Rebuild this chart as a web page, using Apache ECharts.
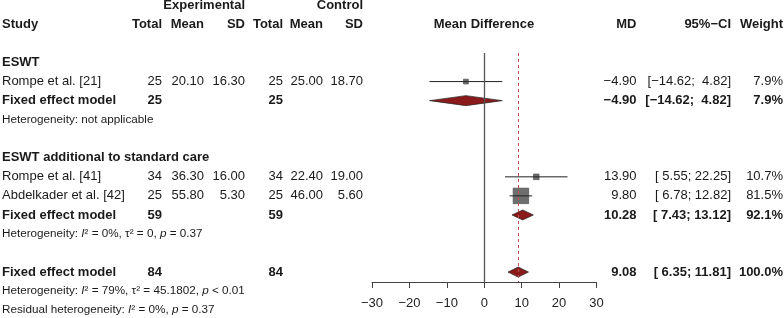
<!DOCTYPE html>
<html>
<head>
<meta charset="utf-8">
<script src="https://cdn.jsdelivr.net/npm/echarts@6/dist/echarts.min.js"></script>
<style>
  html, body { margin: 0; padding: 0; background: #fff; }
  #forest { width: 784px; height: 318px; }
</style>
</head>
<body>
<div id="forest"></div>
<script>
// studies
var studies = ['Rompe et al. [21]', 'Rompe et al. [41]', 'Abdelkader et al. [42]'];
var studyRows = [4, 9, 10];
var expTotal = [25, 34, 25];
var expMean = ['20.10', '36.30', '55.80'];
var expSD = ['16.30', '16.00', '5.30'];
var ctrlTotal = [25, 34, 25];
var ctrlMean = ['25.00', '22.40', '46.00'];
var ctrlSD = ['18.70', '19.00', '5.60'];
var md = [-4.90, 13.90, 9.80];
var ciLow = [-14.62, 5.55, 6.78];
var ciHigh = [4.82, 22.25, 12.82];
var weight = [7.9, 10.7, 81.5];

// pooled (fixed effect) rows
var pooledRows = [5, 11, 14];
var pooledTotalE = [25, 59, 84];
var pooledTotalC = [25, 59, 84];
var pooledMd = [-4.90, 10.28, 9.08];
var pooledLow = [-14.62, 7.43, 6.35];
var pooledHigh = [4.82, 13.12, 11.81];
var pooledWeight = [7.9, 92.1, 100.0];

// subgroup titles + heterogeneity lines
var groupTitles = ['ESWT', 'ESWT additional to standard care'];
var groupRows = [3, 8];
var hetTexts = [
  'Heterogeneity: not applicable',
  'Heterogeneity: {i|I}² = 0%, τ² = 0, {i|p} = 0.37',
  'Heterogeneity: {i|I}² = 79%, τ² = 45.1802, {i|p} < 0.01',
  'Residual heterogeneity: {i|I}² = 0%, {i|p} = 0.37'
];
var hetRows = [6, 12, 15, 16];

var xTicks = [-30, -20, -10, 0, 10, 20, 30];
var overallMd = 9.08;

// layout (pixel x of each column; right edge unless noted)
var col = {study: 2, eTot: 162, eMean: 204, eSD: 245, cTot: 283, cMean: 323, cSD: 363,
           mdHead: 484, md: 636.5, ci: 731, w: 783};
var FONT = '"Liberation Sans", Arial, Helvetica, sans-serif';

function fmt(v, d) {
  return v.toFixed(d).replace('-', '\u2212');
}
function ciText(lo, hi) {
  var a = fmt(lo, 2), b = fmt(hi, 2);
  if (lo >= 0 && lo < 10) a = ' ' + a;
  if (hi >= 0 && hi < 10) b = ' ' + b;
  return '[' + a + '; ' + b + ']';
}

var cells = [];
function cell(row, x, text, align, bold, small) {
  cells.push({row: row, x: x, text: text, align: align || 'right', bold: !!bold, small: !!small});
}
// headers
cell(0, col.eSD, 'Experimental', 'right', true);
cell(0, col.cSD, 'Control', 'right', true);
cell(1, col.study, 'Study', 'left', true);
cell(1, col.eTot, 'Total', 'right', true);
cell(1, col.eMean, 'Mean', 'right', true);
cell(1, col.eSD, 'SD', 'right', true);
cell(1, col.cTot, 'Total', 'right', true);
cell(1, col.cMean, 'Mean', 'right', true);
cell(1, col.cSD, 'SD', 'right', true);
cell(1, col.mdHead, 'Mean Difference', 'center', true);
cell(1, col.md, 'MD', 'right', true);
cell(1, col.ci, '95%\u2212CI', 'right', true);
cell(1, col.w, 'Weight', 'right', true);

groupTitles.forEach(function (t, i) { cell(groupRows[i], col.study, t, 'left', true); });

studies.forEach(function (s, i) {
  var r = studyRows[i];
  cell(r, col.study, s, 'left');
  cell(r, col.eTot, String(expTotal[i]));
  cell(r, col.eMean, expMean[i]);
  cell(r, col.eSD, expSD[i]);
  cell(r, col.cTot, String(ctrlTotal[i]));
  cell(r, col.cMean, ctrlMean[i]);
  cell(r, col.cSD, ctrlSD[i]);
  cell(r, col.md, fmt(md[i], 2));
  cell(r, col.ci, ciText(ciLow[i], ciHigh[i]));
  cell(r, col.w, weight[i].toFixed(1) + '%');
});

pooledRows.forEach(function (r, i) {
  cell(r, col.study, 'Fixed effect model', 'left', true);
  cell(r, col.eTot, String(pooledTotalE[i]), 'right', true);
  cell(r, col.cTot, String(pooledTotalC[i]), 'right', true);
  cell(r, col.md, fmt(pooledMd[i], 2), 'right', true);
  cell(r, col.ci, ciText(pooledLow[i], pooledHigh[i]), 'right', true);
  cell(r, col.w, pooledWeight[i].toFixed(1) + '%', 'right', true);
});

hetTexts.forEach(function (t, i) { cell(hetRows[i], col.study, t, 'left', false, true); });

var myChart = echarts.init(document.getElementById('forest'));

var option = {
  animation: false,
  grid: {left: 372, right: 187.5, top: 53, bottom: 36},
  xAxis: {
    type: 'value', min: -30, max: 30, interval: 10,
    splitLine: {show: false},
    axisLine: {lineStyle: {color: '#444', width: 1}},
    axisTick: {length: 6, lineStyle: {color: '#444', width: 1}},
    axisLabel: {
      color: '#222', fontSize: 13, fontFamily: FONT, margin: 15,
      formatter: function (v) { return xTicks.indexOf(v) >= 0 ? String(v).replace('-', '\u2212') : ''; }
    }
  },
  yAxis: {type: 'value', inverse: true, min: 2.5, max: 14.52, show: false},
  series: [
    {
      // table text
      type: 'custom',
      clip: false,
      silent: true,
      data: cells.map(function (c) { return [0, c.row]; }),
      renderItem: function (params, api) {
        var c = cells[params.dataIndex];
        var y = api.coord([0, c.row])[1];
        return {
          type: 'text',
          x: c.x, y: y,
          style: {
            text: c.text,
            align: c.align,
            verticalAlign: 'middle',
            fill: '#1a1a1a',
            fontFamily: FONT,
            fontSize: c.small ? 11.7 : 13,
            fontWeight: c.bold ? 'bold' : 'normal',
            rich: {i: {fontStyle: 'italic', fontSize: 11.7, fontFamily: FONT, fill: '#1a1a1a'}}
          }
        };
      }
    },
    {
      // study CI lines and squares
      type: 'custom',
      silent: true,
      clip: false,
      data: studies.map(function (s, i) { return [md[i], studyRows[i], ciLow[i], ciHigh[i], weight[i]]; }),
      renderItem: function (params, api) {
        var r = api.value(1);
        var c = api.coord([api.value(0), r]);
        var lo = api.coord([api.value(2), r]);
        var hi = api.coord([api.value(3), r]);
        var side = 1.72 * Math.sqrt(api.value(4));
        return {
          type: 'group',
          children: [
            {type: 'rect', shape: {x: c[0] - side / 2, y: c[1] - side / 2, width: side, height: side},
             style: {fill: '#6e6e6e', stroke: '#444', lineWidth: 0.6}},
            {type: 'line', shape: {x1: lo[0], y1: lo[1], x2: hi[0], y2: hi[1]},
             style: {stroke: '#222', lineWidth: 1}}
          ]
        };
      },
      markLine: {
        symbol: 'none',
        silent: true,
        label: {show: false},
        data: [
          {xAxis: 0, lineStyle: {color: '#555', width: 1.3, type: 'solid'}},
          {xAxis: overallMd, lineStyle: {color: '#c0504d', width: 1, type: [3, 3]}}
        ]
      }
    },
    {
      // pooled diamonds
      type: 'custom',
      silent: true,
      clip: false,
      data: pooledRows.map(function (r, i) { return [pooledMd[i], r, pooledLow[i], pooledHigh[i]]; }),
      renderItem: function (params, api) {
        var r = api.value(1);
        var c = api.coord([api.value(0), r]);
        var lo = api.coord([api.value(2), r]);
        var hi = api.coord([api.value(3), r]);
        var h = 5;
        return {
          type: 'polygon',
          shape: {points: [[lo[0], c[1]], [c[0], c[1] - h], [hi[0], c[1]], [c[0], c[1] + h]]},
          style: {fill: '#8b1a1a', stroke: '#222', lineWidth: 0.7}
        };
      }
    }
  ]
};

myChart.setOption(option);
window.addEventListener('resize', function () {
  myChart.resize();
});
</script>
</body>
</html>
